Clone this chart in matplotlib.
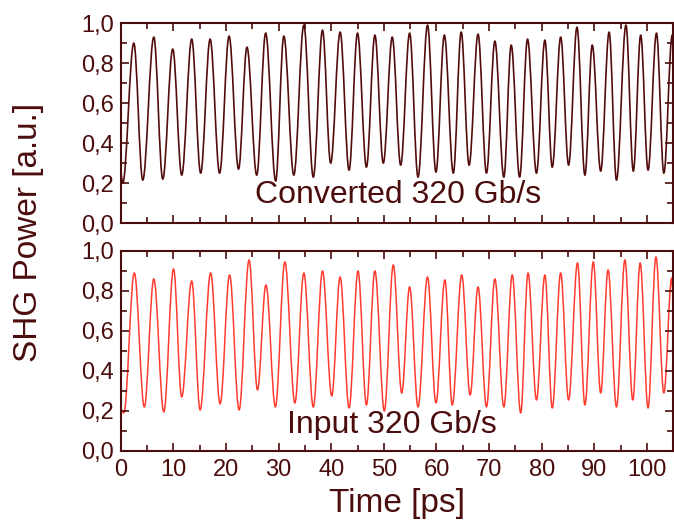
"""
shg_traces.py — 320 Gb/s 转换前后的 SHG 自相关迹线（上：Converted，下：Input）。
"""
import matplotlib
matplotlib.use('Agg')
import matplotlib.pyplot as plt
from matplotlib.path import Path
from matplotlib.patches import PathPatch
from matplotlib.ticker import MultipleLocator, FuncFormatter

# ─────────────────────────────────────────────────────────────────────────────
# 数据：各周期的峰/谷 (时间 ps, 功率 a.u.)
# ─────────────────────────────────────────────────────────────────────────────

conv_t = [0.0, 0.4, 2.5, 4.2, 6.3, 8.0, 9.9, 11.6, 13.5, 15.2, 17.0, 18.8,
          20.6, 22.4, 24.0, 25.85, 27.55, 29.45, 31.0, 32.9, 34.8, 36.6, 38.35,
          39.9, 41.7, 43.4, 45.0, 46.7, 48.3, 49.9, 51.6, 53.2, 54.9, 56.5, 58.3,
          59.9, 61.5, 63.2, 64.7, 66.2, 67.9, 69.5, 71.1, 72.8, 74.2, 75.8, 77.3,
          79.0, 80.6, 82.0, 83.6, 85.1, 86.7, 88.2, 89.6, 91.2, 92.8, 94.2, 96.0,
          97.4, 98.8, 100.2, 101.8, 103.2, 104.8]
conv_p = [0.25, 0.20, 0.90, 0.215, 0.93, 0.22, 0.87, 0.24, 0.92, 0.25, 0.92,
          0.25, 0.935, 0.27, 0.88, 0.24, 0.95, 0.21, 0.935, 0.24, 0.99, 0.23, 0.965,
          0.30, 0.955, 0.265, 0.95, 0.28, 0.94, 0.30, 0.93, 0.29, 0.95, 0.23, 0.99,
          0.255, 0.94, 0.25, 0.955, 0.29, 0.945, 0.25, 0.91, 0.23, 0.89, 0.23, 0.92,
          0.25, 0.915, 0.28, 0.93, 0.29, 0.98, 0.24, 0.89, 0.26, 0.955, 0.215, 0.99,
          0.26, 0.94, 0.265, 0.95, 0.25, 0.94]

input_t = [0.0, 0.6, 2.6, 4.5, 6.3, 8.2, 10.05, 11.6, 13.5, 15.1, 17.1, 18.9, 20.7,
           22.5, 24.4, 26.0, 27.6, 29.4, 31.2, 33.1, 34.8, 36.6, 38.35, 40.1, 41.7,
           43.4, 45.1, 46.7, 48.3, 50.1, 51.8, 53.4, 54.9, 56.5, 58.3, 59.9, 61.6,
           63.0, 64.8, 66.4, 67.9, 69.5, 71.1, 72.8, 74.4, 76.0, 77.4, 79.0, 80.6,
           82.0, 83.6, 85.1, 86.8, 88.2, 89.8, 91.2, 92.6, 94.2, 95.8, 97.3, 98.7,
           100.2, 101.7, 103.2, 104.7, 105.0]
input_p = [0.21, 0.19, 0.89, 0.22, 0.86, 0.195, 0.91, 0.27, 0.85, 0.205, 0.89, 0.235,
           0.88, 0.205, 0.955, 0.305, 0.83, 0.22, 0.945, 0.24, 0.89, 0.22, 0.90, 0.275,
           0.87, 0.215, 0.90, 0.23, 0.90, 0.20, 0.93, 0.29, 0.82, 0.22, 0.87, 0.24,
           0.855, 0.23, 0.88, 0.28, 0.82, 0.22, 0.86, 0.22, 0.88, 0.19, 0.89, 0.255,
           0.88, 0.215, 0.89, 0.255, 0.94, 0.23, 0.945, 0.29, 0.905, 0.22, 0.955, 0.255,
           0.94, 0.215, 0.97, 0.29, 0.865, 0.75]

conv_label = 'Converted 320 Gb/s'
input_label = 'Input 320 Gb/s'

INK = '#4a0c0c'        # 文字 / 坐标轴颜色
CONV_COLOR = '#520c0c'
INPUT_COLOR = '#ff3b2f'

plt.rcParams['font.family'] = ['Liberation Sans', 'DejaVu Sans']


def _comma(v, pos):
    return f'{v:.1f}'.replace('.', ',')


def _trace(ax, t, p, color, lw):
    """峰/谷之间用三次 Bezier 连接（极值处切线水平），近似正弦包络。"""
    k = 0.36
    verts = [(t[0], p[0])]
    codes = [Path.MOVETO]
    for i in range(1, len(t)):
        dt = t[i] - t[i - 1]
        verts += [(t[i - 1] + k * dt, p[i - 1]), (t[i] - k * dt, p[i]), (t[i], p[i])]
        codes += [Path.CURVE4] * 3
    ax.add_patch(PathPatch(Path(verts, codes), fill=False, edgecolor=color,
                           lw=lw, capstyle='round', joinstyle='round'))


def _style(ax, show_x):
    ax.set_xlim(0, 105)
    ax.set_ylim(0, 1.0)
    ax.xaxis.set_major_locator(MultipleLocator(10))
    ax.xaxis.set_minor_locator(MultipleLocator(5))
    ax.yaxis.set_major_locator(MultipleLocator(0.2))
    ax.yaxis.set_minor_locator(MultipleLocator(0.1))
    ax.yaxis.set_major_formatter(FuncFormatter(_comma))
    ax.tick_params(which='both', direction='in', top=True, right=True,
                   color=INK, labelcolor=INK, labelsize=17, width=1.2)
    ax.tick_params(which='major', length=6)
    ax.tick_params(which='minor', length=4)
    ax.tick_params(axis='y', pad=5)
    ax.tick_params(axis='x', pad=6, labelbottom=show_x)
    for s in ax.spines.values():
        s.set_color(INK)
        s.set_linewidth(1.5)


fig = plt.figure(figsize=(6.74, 5.25), dpi=100)
ax_top = fig.add_axes([0.179, 0.575, 0.820, 0.381])
ax_bot = fig.add_axes([0.179, 0.141, 0.820, 0.381])

_trace(ax_top, conv_t, conv_p, CONV_COLOR, 1.2)
_trace(ax_bot, input_t, input_p, INPUT_COLOR, 1.1)

_style(ax_top, show_x=False)
_style(ax_bot, show_x=True)

ax_top.text(25.5, 0.10, conv_label, ha='left', va='baseline', fontsize=23, color=INK)
ax_bot.text(31.6, 0.09, input_label, ha='left', va='baseline', fontsize=23, color=INK)

ax_bot.set_xlabel('Time [ps]', fontsize=24, color=INK, labelpad=5)
fig.text(0.042, 0.558, 'SHG Power [a.u.]', rotation=90, ha='center', va='center',
         fontsize=24, color=INK)

fig.savefig('out.png', dpi=100)
plt.close(fig)
